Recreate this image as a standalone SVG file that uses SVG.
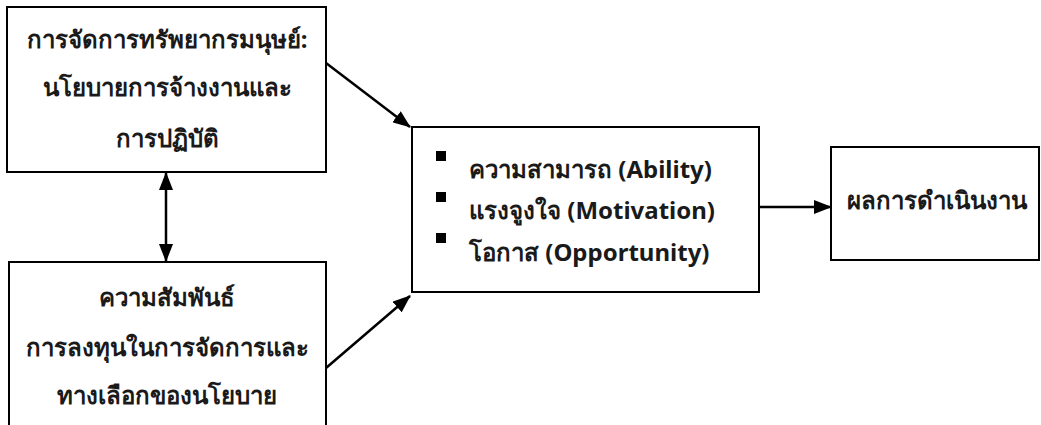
<svg xmlns="http://www.w3.org/2000/svg" width="1041" height="425" viewBox="0 0 1041 425">
  <style>
    .box { fill: #ffffff; stroke: #000000; stroke-width: 2; }
    .t { font-family: "Noto Sans", "DejaVu Sans", sans-serif; font-size: 24px; font-weight: bold; fill: #1a1a1a; }
    .c { text-anchor: middle; }
    .line { stroke: #000000; stroke-width: 2.5; fill: none; }
  </style>
  <defs>
    <marker id="arrow" viewBox="0 0 18 14" refX="17" refY="7" markerWidth="18" markerHeight="14" markerUnits="userSpaceOnUse" orient="auto-start-reverse">
      <path d="M0,0 L18,7 L0,14 z" fill="#000000"/>
    </marker>
  </defs>

  <g id="hr-policy">
    <rect class="box" x="7" y="7" width="319" height="165"/>
    <text class="t c" x="167" y="48">การจัดการทรัพยากรมนุษย์:</text>
    <text class="t c" x="167" y="96">นโยบายการจ้างงานและ</text>
    <text class="t c" x="167" y="147">การปฏิบัติ</text>
  </g>

  <g id="relations">
    <rect class="box" x="9" y="262" width="317" height="175"/>
    <text class="t c" x="167" y="306">ความสัมพันธ์</text>
    <text class="t c" x="167" y="356">การลงทุนในการจัดการและ</text>
    <text class="t c" x="167" y="404">ทางเลือกของนโยบาย</text>
  </g>

  <g id="amo">
    <rect class="box" x="412" y="127" width="347" height="165"/>
    <rect x="436" y="151" width="10" height="10" fill="#000000"/>
    <rect x="436" y="192" width="10" height="10" fill="#000000"/>
    <rect x="436" y="233" width="10" height="10" fill="#000000"/>
    <text class="t" x="469" y="178">ความสามารถ (Ability)</text>
    <text class="t" x="469" y="219">แรงจูงใจ (Motivation)</text>
    <text class="t" x="469" y="261">โอกาส (Opportunity)</text>
  </g>

  <g id="performance">
    <rect class="box" x="831" y="147" width="208" height="113"/>
    <text class="t" x="847" y="209">ผลการดำเนินงาน</text>
  </g>

  <g id="connectors">
    <line class="line" x1="326" y1="63" x2="410" y2="127" marker-end="url(#arrow)"/>
    <line class="line" x1="326" y1="368" x2="410" y2="296" marker-end="url(#arrow)"/>
    <line class="line" x1="166" y1="173" x2="166" y2="261" marker-start="url(#arrow)" marker-end="url(#arrow)"/>
    <line class="line" x1="759" y1="207" x2="831" y2="207" marker-end="url(#arrow)"/>
  </g>
</svg>
